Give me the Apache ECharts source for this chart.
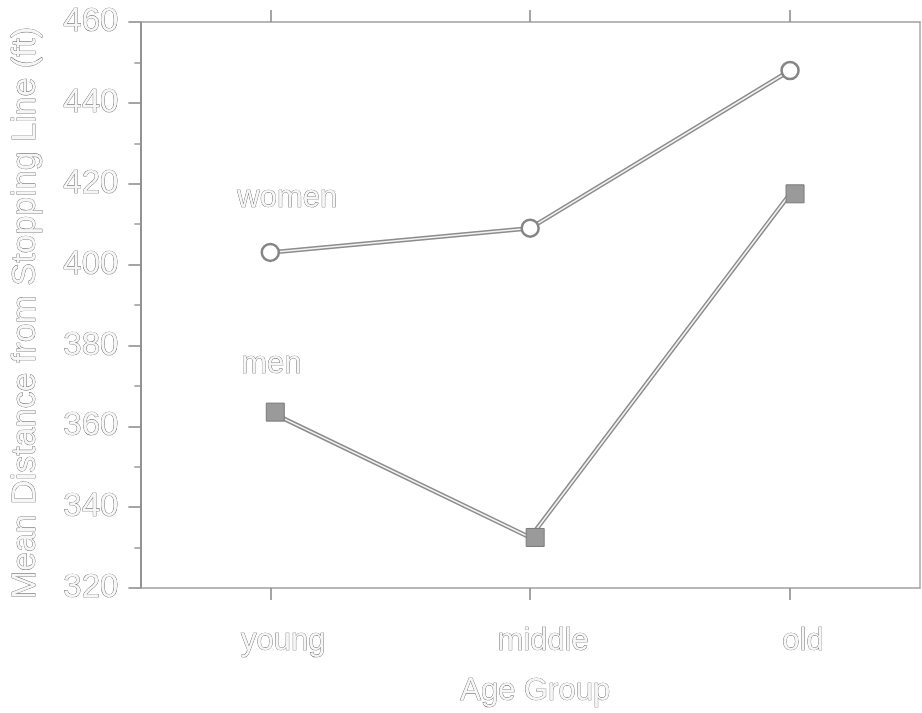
<!DOCTYPE html>
<html>
<head>
<meta charset="utf-8">
<script src="https://cdn.jsdelivr.net/npm/echarts@6/dist/echarts.min.js"></script>
<style>
  html, body { margin: 0; padding: 0; background: #fff; }
  #chart { width: 922px; height: 713px; }
</style>
</head>
<body>
<div id="chart"></div>
<script>
// Age groups along the x axis
const ageGroups = ['young', 'middle', 'old'];
// Mean stopping distance (ft) per group
const womenValues = [403, 409, 448];
const menValues = [363.5, 332.5, 417.5];
// Y axis range and steps
const yTicks = { min: 320, max: 460, step: 20 };
const seriesNames = ['women', 'men'];
const xTitle = 'Age Group';
const yTitle = 'Mean Distance from Stopping Line (ft)';

const FONT = '"Liberation Sans", Arial, Helvetica, sans-serif';
const ink = '#505050';

// Hollow, scanned-looking lettering
function hollowText(size) {
  return {
    fontFamily: FONT,
    fontSize: size,
    color: '#f6f6f6',
    textBorderColor: ink,
    textBorderWidth: 0.7
  };
}

// Each trace is drawn as a wide grey stroke with a thin white core (double line look)
function traceLayers(values, name) {
  return [
    {
      name: name + '-outer', type: 'line', data: values, z: 2,
      symbol: 'none', silent: true,
      lineStyle: { color: '#8c8c8c', width: 4.5 }
    },
    {
      name: name + '-inner', type: 'line', data: values, z: 3,
      symbol: 'none', silent: true,
      lineStyle: { color: '#f2f2f2', width: 1.6 }
    }
  ];
}

function markerData(values, name, labelOffset) {
  return values.map((v, i) => {
    if (i !== 0) return v;
    return {
      value: v,
      label: Object.assign({
        show: true,
        formatter: name,
        position: 'inside',
        offset: labelOffset
      }, hollowText(31))
    };
  });
}

const chart = echarts.init(document.getElementById('chart'), null, { renderer: 'canvas' });

chart.setOption({
  animation: false,
  backgroundColor: '#ffffff',
  grid: { left: 140, right: 2, top: 22, bottom: 125, containLabel: false },
  xAxis: [
    {
      type: 'category',
      data: ageGroups,
      position: 'bottom',
      boundaryGap: true,
      axisLine: { show: true, lineStyle: { color: '#a0a0a0', width: 1.5 } },
      axisTick: { show: true, alignWithLabel: true, length: 12, inside: false,
                  lineStyle: { color: '#888', width: 1.5 } },
      axisLabel: Object.assign({ margin: 38, padding: [0, 0, 0, 26] }, hollowText(31)),
      name: xTitle,
      nameLocation: 'middle',
      nameGap: 88,
      nameTextStyle: Object.assign({ padding: [0, 0, 0, 10] }, hollowText(31)),
      splitLine: { show: false }
    },
    {
      type: 'category',
      data: ageGroups,
      position: 'top',
      boundaryGap: true,
      axisLine: { show: true, lineStyle: { color: '#a0a0a0', width: 1.5 } },
      axisTick: { show: true, alignWithLabel: true, length: 12,
                  lineStyle: { color: '#888', width: 1.5 } },
      axisLabel: { show: false },
      splitLine: { show: false }
    }
  ],
  yAxis: [
    {
      type: 'value',
      position: 'left',
      min: yTicks.min,
      max: yTicks.max,
      interval: yTicks.step,
      axisLine: { show: true, lineStyle: { color: '#6e6e6e', width: 1.5 } },
      axisTick: { show: true, length: 12, lineStyle: { color: '#888', width: 1.5 } },
      minorTick: { show: true, splitNumber: 2, length: 6, lineStyle: { color: '#999', width: 1.5 } },
      axisLabel: Object.assign({ margin: 22 }, hollowText(33)),
      name: yTitle,
      nameLocation: 'middle',
      nameGap: 98,
      nameRotate: 90,
      nameTextStyle: Object.assign({ padding: [0, 16, 0, 0] }, hollowText(34)),
      splitLine: { show: false }
    },
    {
      type: 'value',
      position: 'right',
      min: yTicks.min,
      max: yTicks.max,
      interval: yTicks.step,
      axisLine: { show: true, lineStyle: { color: '#a8a8a8', width: 1.5 } },
      axisTick: { show: false },
      axisLabel: { show: false },
      splitLine: { show: false }
    }
  ],
  series: [
    ...traceLayers(womenValues, seriesNames[0]),
    ...traceLayers(menValues, seriesNames[1]),
    {
      name: seriesNames[0], type: 'scatter', z: 5,
      data: markerData(womenValues, seriesNames[0], [17, -54]),
      symbol: 'circle', symbolSize: 17,
      itemStyle: { color: '#ffffff', borderColor: '#858585', borderWidth: 2.5, opacity: 1 }
    },
    {
      name: seriesNames[1], type: 'scatter', z: 5,
      data: markerData(menValues, seriesNames[1], [-4, -48]),
      symbol: 'rect', symbolSize: 18, symbolOffset: [5, 0],
      itemStyle: { color: '#9a9a9a', borderColor: '#7a7a7a', borderWidth: 1, opacity: 1 }
    }
  ]
});
</script>
</body>
</html>
